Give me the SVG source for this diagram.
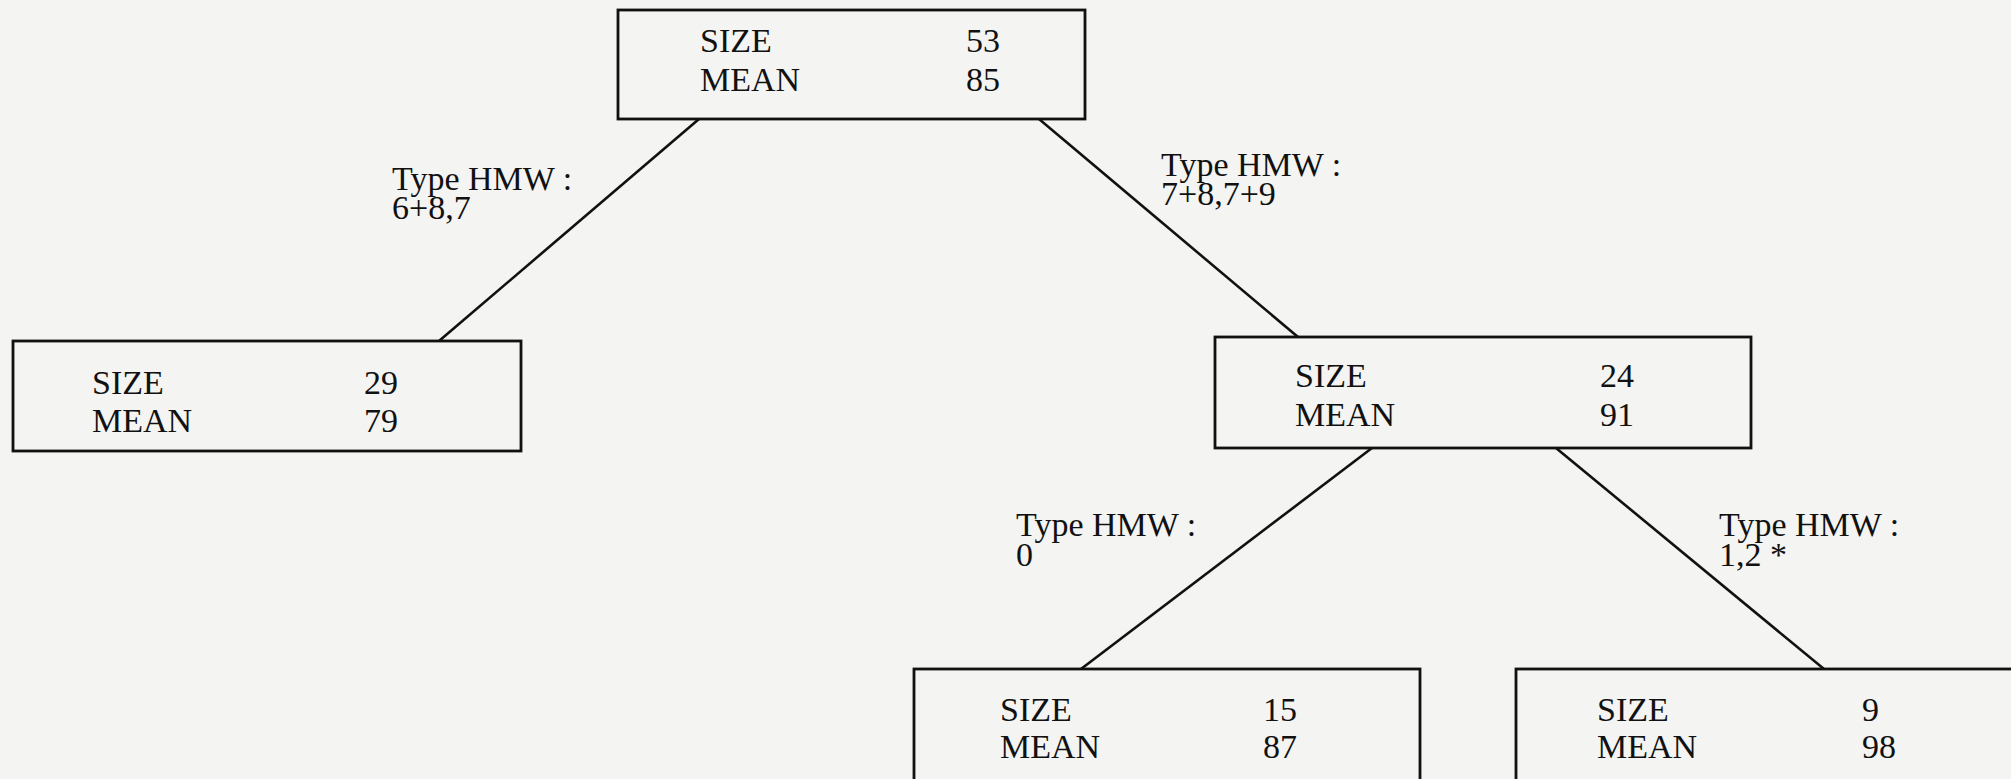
<svg xmlns="http://www.w3.org/2000/svg" width="2011" height="779" viewBox="0 0 2011 779">
<style>
.box{fill:none;stroke:#111;stroke-width:2.8}
.t{font-family:"Liberation Serif","Times New Roman",serif;font-size:34px;fill:#111}
.c line{stroke:#111;stroke-width:2.6}
</style>
<rect x="0" y="0" width="2011" height="779" fill="#f4f4f2"/>
<g class="c" id="connectors">
<line x1="699" y1="119" x2="439" y2="341"/>
<line x1="1039" y1="119" x2="1298" y2="337"/>
<line x1="1372" y1="448" x2="1081" y2="669"/>
<line x1="1556" y1="448" x2="1824" y2="669"/>
<text class="t" x="392" y="190">Type HMW :<tspan x="392" y="219">6+8,7</tspan></text>
<text class="t" x="1161" y="176">Type HMW :<tspan x="1161" y="205">7+8,7+9</tspan></text>
<text class="t" x="1016" y="536">Type HMW :<tspan x="1016" y="566">0</tspan></text>
<text class="t" x="1719" y="536">Type HMW :<tspan x="1719" y="566">1,2 *</tspan></text>
</g>
<g id="root">
<rect class="box" x="618" y="10" width="467" height="109"/>
<text class="t" x="700" y="52">SIZE<tspan x="700" y="91">MEAN</tspan></text>
<text class="t" x="966" y="52">53<tspan x="966" y="91">85</tspan></text>
</g>
<g id="left">
<rect class="box" x="13" y="341" width="508" height="110"/>
<text class="t" x="92" y="394">SIZE<tspan x="92" y="432">MEAN</tspan></text>
<text class="t" x="364" y="394">29<tspan x="364" y="432">79</tspan></text>
</g>
<g id="mid">
<rect class="box" x="1215" y="337" width="536" height="111"/>
<text class="t" x="1295" y="387">SIZE<tspan x="1295" y="426">MEAN</tspan></text>
<text class="t" x="1600" y="387">24<tspan x="1600" y="426">91</tspan></text>
</g>
<g id="bl">
<rect class="box" x="914" y="669" width="506" height="130"/>
<text class="t" x="1000" y="721">SIZE<tspan x="1000" y="758">MEAN</tspan></text>
<text class="t" x="1263" y="721">15<tspan x="1263" y="758">87</tspan></text>
</g>
<g id="br">
<rect class="box" x="1516" y="669" width="520" height="130"/>
<text class="t" x="1597" y="721">SIZE<tspan x="1597" y="758">MEAN</tspan></text>
<text class="t" x="1862" y="721">9<tspan x="1862" y="758">98</tspan></text>
</g>
</svg>
